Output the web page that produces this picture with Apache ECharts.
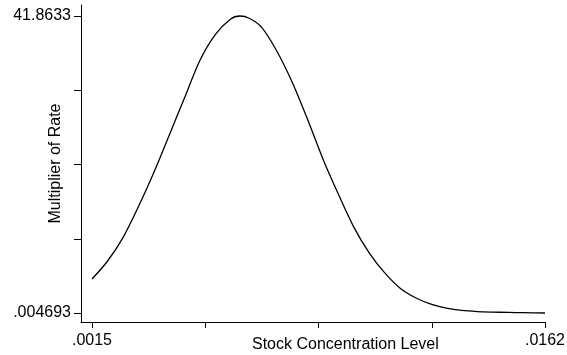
<!DOCTYPE html>
<html>
<head>
<meta charset="utf-8">
<script src="https://cdn.jsdelivr.net/npm/echarts@6/dist/echarts.min.js"></script>
<style>
html,body{margin:0;padding:0;background:#fff;}
#c{width:567px;height:355px;}
</style>
</head>
<body>
<div id="c"></div>
<script>
// Data
var xValues = [0.0015, 0.0020, 0.0025, 0.0030, 0.0035, 0.0040, 0.0045, 0.0050, 0.0055, 0.0060, 0.0063, 0.0066, 0.0070, 0.0075, 0.0080, 0.0085, 0.0090, 0.0095, 0.0100, 0.0105, 0.0110, 0.0115, 0.0120, 0.0125, 0.0130, 0.0135, 0.0140, 0.0145, 0.0150, 0.0155, 0.0162];
var yValues = [4.79, 7.3, 10.6, 14.95, 19.75, 25.0, 30.3, 35.6, 39.25, 41.45, 41.8633, 41.55, 40.3, 36.9, 32.5, 27.25, 21.65, 16.7, 12.07, 8.45, 5.65, 3.5, 2.15, 1.24, 0.69, 0.36, 0.2, 0.13, 0.09, 0.05, 0.004693];

var xTickValues = [0.0015, 0.005175, 0.00885, 0.012525, 0.0162];
var xLabelValues = [0.0015, 0.0162];
var xLabelTexts = ['.0015', '.0162'];

var yTickValues = [0.004693, 10.46928, 20.93396, 31.39863, 41.8633];
var yLabelValues = [0.004693, 41.8633];
var yLabelTexts = ['.004693', '41.8633'];

var xTitle = 'Stock Concentration Level';
var yTitle = 'Multiplier of Rate';

function pick(vals, texts) {
  return function (v) {
    for (var i = 0; i < vals.length; i++) {
      if (Math.abs(vals[i] - v) < 1e-7) return texts[i];
    }
    return '';
  };
}

var font = 'Liberation Sans, Arial, Helvetica, sans-serif';
var chart = echarts.init(document.getElementById('c'), null, {renderer: 'canvas'});
var pts = xValues.map(function (x, i) { return [x, yValues[i]]; });

chart.setOption({
  animation: false,
  backgroundColor: '#fff',
  grid: {left: 81, right: 22, top: 5, bottom: 33, containLabel: false, outerBoundsMode: 'none'},
  xAxis: {
    type: 'value',
    min: 0.001143,
    max: 0.0162,
    splitLine: {show: false},
    axisLine: {show: true, onZero: false, lineStyle: {color: '#000', width: 1}},
    axisTick: {show: true, length: 6, lineStyle: {color: '#000', width: 1}, customValues: xTickValues},
    axisLabel: {show: true, margin: 11, color: '#000', fontSize: 16, fontFamily: font,
      customValues: xLabelValues, formatter: pick(xLabelValues, xLabelTexts)}
  },
  yAxis: {
    type: 'value',
    min: -1.2638,
    max: 43.4136,
    splitLine: {show: false},
    axisLine: {show: true, onZero: false, lineStyle: {color: '#000', width: 1}},
    axisTick: {show: true, length: 7, lineStyle: {color: '#000', width: 1}, customValues: yTickValues},
    axisLabel: {show: true, margin: 10, color: '#000', fontSize: 16, fontFamily: font,
      customValues: yLabelValues, formatter: pick(yLabelValues, yLabelTexts)},
    name: yTitle,
    nameLocation: 'middle',
    nameRotate: 90,
    nameGap: 17,
    nameMoveOverlap: false,
    nameTextStyle: {color: '#000', fontSize: 16, fontFamily: font}
  },
  graphic: [{
    type: 'text',
    left: 252,
    top: 337,
    style: {text: xTitle, fill: '#000', font: '16px ' + font}
  }],
  series: [{
    type: 'line',
    data: pts,
    showSymbol: false,
    smooth: 0.3,
    lineStyle: {color: '#000', width: 1.3}
  }]
});
</script>
</body>
</html>
